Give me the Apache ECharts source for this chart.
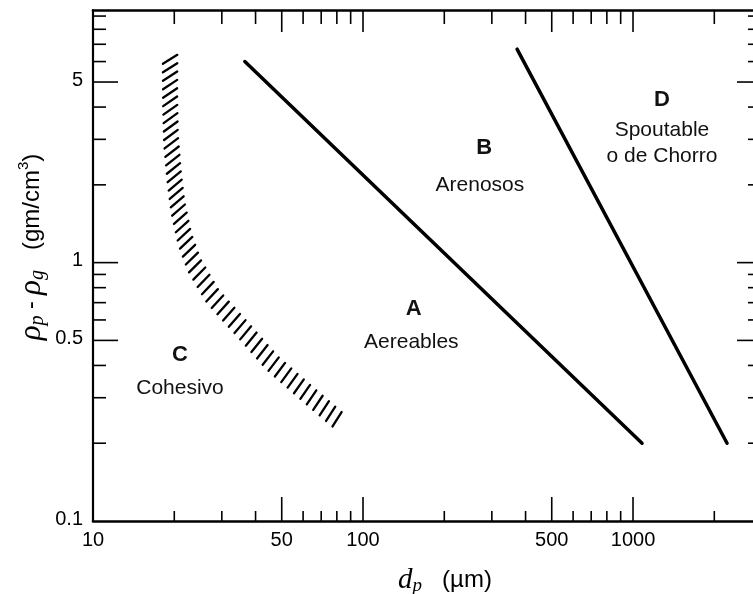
<!DOCTYPE html>
<html>
<head>
<meta charset="utf-8">
<script src="https://cdn.jsdelivr.net/npm/echarts@6.0.0/dist/echarts.min.js"></script>
<style>
html, body { margin: 0; padding: 0; background: #fff; }
#main { width: 753px; height: 594px; }
</style>
</head>
<body>
<div id="main"></div>
<script>
// rango de los ejes (log)
var xMin = 10, xMax = 2782;
var yMin = 0.1, yMax = 9.5;

// marcas y etiquetas
var xTicks = [20, 30, 40, 50, 60, 70, 80, 90, 100, 200, 300, 400, 500, 600, 700, 800, 900, 1000, 2000];
var xMajor = [50, 100, 500, 1000];
var xLabels = [10, 50, 100, 500, 1000];
var yTicks = [0.2, 0.3, 0.4, 0.5, 0.6, 0.7, 0.8, 0.9, 1, 2, 3, 4, 5, 6, 7, 8, 9];
var yMajor = [0.5, 1, 5];
var yLabels = [0.1, 0.5, 1, 5];

// frontera A / B
var abD = [36.5, 1080];
var abRho = [6.0, 0.2];
// frontera B / D
var bdD = [372, 2230];
var bdRho = [6.7, 0.2];

// banda rayada C / A (linea central)
var bandD = [19.3, 19.3, 19.45, 19.95, 20.6, 21.9, 23.7, 27.8, 35.9, 46.0, 64.7, 81.5];
var bandRho = [6.12, 4.28, 3.0, 2.19, 1.65, 1.23, 0.98, 0.738, 0.55, 0.41, 0.30, 0.244];

// textos de las zonas
var zoneText = ['D', 'Spoutable', 'o de Chorro', 'B', 'Arenosos', 'A', 'Aereables', 'C', 'Cohesivo'];
var zoneD = [1280, 1280, 1280, 281, 271, 154, 151, 21, 21];
var zoneRho = [4.28, 3.25, 2.58, 2.79, 2.0, 0.66, 0.494, 0.44, 0.328];
var zoneBold = [1, 0, 0, 1, 0, 1, 0, 1, 0];

var ink = '#000';
var sans = '"Liberation Sans", Arial, sans-serif';
var serif = '"Liberation Serif", "DejaVu Serif", serif';

// marcas del eje x (abajo y arriba)
function xTickItem(params, api) {
	var v = api.value(0);
	var cs = params.coordSys;
	var x = api.coord([v, yMin])[0];
	var major = xMajor.indexOf(v) >= 0;
	var lb = major ? 24 : 10, lt = major ? 22 : 14;
	var bot = cs.y + cs.height, top = cs.y;
	return {
		type: 'group',
		children: [
			{ type: 'line', shape: { x1: x, y1: bot, x2: x, y2: bot - lb }, style: { stroke: ink, lineWidth: 1.6 } },
			{ type: 'line', shape: { x1: x, y1: top, x2: x, y2: top + lt }, style: { stroke: ink, lineWidth: 1.6 } }
		]
	};
}
// marcas del eje y (izquierda y derecha)
function yTickItem(params, api) {
	var v = api.value(1);
	var cs = params.coordSys;
	var y = api.coord([xMin, v])[1];
	var major = yMajor.indexOf(v) >= 0;
	var ll = major ? 25 : 13, lr = major ? 16 : 5;
	var left = cs.x, right = cs.x + cs.width;
	return {
		type: 'group',
		children: [
			{ type: 'line', shape: { x1: left, y1: y, x2: left + ll, y2: y }, style: { stroke: ink, lineWidth: 1.6 } },
			{ type: 'line', shape: { x1: right, y1: y, x2: right - lr, y2: y }, style: { stroke: ink, lineWidth: 1.6 } }
		]
	};
}
function xLabelItem(params, api) {
	var v = api.value(0);
	var cs = params.coordSys;
	var x = api.coord([v, yMin])[0];
	return {
		type: 'text', x: x, y: cs.y + cs.height + 19,
		style: { text: String(v), font: '20px ' + sans, fill: ink, align: 'center', verticalAlign: 'middle' }
	};
}
function yLabelItem(params, api) {
	var v = api.value(1);
	var cs = params.coordSys;
	var y = api.coord([xMin, v])[1];
	return {
		type: 'text', x: cs.x - 10, y: y - 2,
		style: { text: String(v), font: '20px ' + sans, fill: ink, align: 'right', verticalAlign: 'middle' }
	};
}
// rayado de la banda: trazos cortos a lo largo de la linea central
var hatchGap = 8.4, hatchLen = 17;
function bandItem(params, api) {
	if (params.dataIndex > 0) return null;
	var pts = [];
	for (var i = 0; i < bandD.length; i++) pts.push(api.coord([bandD[i], bandRho[i]]));
	var cum = [0];
	for (i = 1; i < pts.length; i++) {
		cum.push(cum[i - 1] + Math.sqrt(Math.pow(pts[i][0] - pts[i - 1][0], 2) + Math.pow(pts[i][1] - pts[i - 1][1], 2)));
	}
	var total = cum[cum.length - 1];
	var strokes = [];
	var seg = 1;
	for (var s = 0; s <= total + 0.01; s += hatchGap) {
		while (seg < pts.length - 1 && cum[seg] < s) seg++;
		var f = (s - cum[seg - 1]) / (cum[seg] - cum[seg - 1]);
		var cx = pts[seg - 1][0] + f * (pts[seg][0] - pts[seg - 1][0]);
		var cy = pts[seg - 1][1] + f * (pts[seg][1] - pts[seg - 1][1]);
		var ang = (-32 - 26 * s / total) * Math.PI / 180;
		var dx = Math.cos(ang) * hatchLen / 2, dy = Math.sin(ang) * hatchLen / 2;
		strokes.push({
			type: 'line',
			shape: { x1: cx - dx, y1: cy - dy, x2: cx + dx, y2: cy + dy },
			style: { stroke: ink, lineWidth: 2.3, lineCap: 'round' }
		});
	}
	return { type: 'group', children: strokes };
}
function zoneItem(params, api) {
	var i = params.dataIndex;
	var p = api.coord([api.value(0), api.value(1)]);
	return {
		type: 'text', x: p[0], y: p[1],
		style: {
			text: zoneText[i],
			font: zoneBold[i] ? 'bold 22px ' + sans : '21px ' + sans,
			fill: '#111', align: 'center', verticalAlign: 'middle'
		}
	};
}

function pairs(a, b) {
	var res = [];
	for (var i = 0; i < a.length; i++) res.push([a[i], b[i]]);
	return res;
}

// ejes sin etiquetas: solo la linea; las marcas se dibujan aparte
function logAxis(extra) {
	var ax = {
		type: 'log', logBase: 10,
		axisTick: { show: false }, axisLabel: { show: false }, splitLine: { show: false }
	};
	for (var k in extra) ax[k] = extra[k];
	return ax;
}

var chart = echarts.init(document.getElementById('main'), null, { renderer: 'canvas' });
chart.setOption({
	animation: false,
	backgroundColor: '#fff',
	grid: { left: 93, top: 10, right: 0, bottom: 73, containLabel: false },
	xAxis: [
		logAxis({ min: xMin, max: xMax, position: 'bottom', axisLine: { show: true, lineStyle: { color: ink, width: 2.6 } } }),
		logAxis({ min: xMin, max: xMax, position: 'top', axisLine: { show: true, lineStyle: { color: ink, width: 2.6 } } })
	],
	yAxis: logAxis({ min: yMin, max: yMax, position: 'left', axisLine: { show: true, lineStyle: { color: ink, width: 2.2 } } }),
	graphic: [
		{ // titulo eje y
			type: 'text', x: 32, y: 247, rotation: Math.PI / 2,
			style: {
				text: '{r|ρ}{s|p}{m| - }{r|ρ}{s|g}{u|   (gm/cm}{sup|3}{u|)}',
				align: 'center', verticalAlign: 'middle', fill: ink,
				rich: {
					r: { fontFamily: serif, fontStyle: 'italic', fontSize: 31, lineHeight: 32 },
					s: { fontFamily: serif, fontStyle: 'italic', fontSize: 20, lineHeight: 19, verticalAlign: 'bottom' },
					m: { fontFamily: sans, fontSize: 23, lineHeight: 32 },
					u: { fontFamily: sans, fontSize: 24, lineHeight: 32 },
					sup: { fontFamily: sans, fontSize: 15, lineHeight: 16, verticalAlign: 'top' }
				}
			}
		},
		{ // titulo eje x
			type: 'text', x: 445, y: 580,
			style: {
				text: '{d|d}{s|p}{u|   (µm)}',
				align: 'center', verticalAlign: 'middle', fill: ink,
				rich: {
					d: { fontFamily: serif, fontStyle: 'italic', fontSize: 29, lineHeight: 30 },
					s: { fontFamily: serif, fontStyle: 'italic', fontSize: 19, lineHeight: 17, verticalAlign: 'bottom' },
					u: { fontFamily: sans, fontSize: 24, lineHeight: 30 }
				}
			}
		}
	],
	series: [
		{ type: 'custom', renderItem: xTickItem, data: xTicks.map(function (v) { return [v, yMin]; }) },
		{ type: 'custom', renderItem: yTickItem, data: yTicks.map(function (v) { return [xMin, v]; }) },
		{ type: 'custom', renderItem: xLabelItem, data: xLabels.map(function (v) { return [v, yMin]; }) },
		{ type: 'custom', renderItem: yLabelItem, data: yLabels.map(function (v) { return [xMin, v]; }) },
		{ type: 'custom', renderItem: bandItem, data: pairs(bandD, bandRho) },
		{
			type: 'line', data: pairs(abD, abRho), symbol: 'none',
			lineStyle: { color: ink, width: 3.5, cap: 'round' }
		},
		{
			type: 'line', data: pairs(bdD, bdRho), symbol: 'none',
			lineStyle: { color: ink, width: 3.5, cap: 'round' }
		},
		{ type: 'custom', renderItem: zoneItem, data: pairs(zoneD, zoneRho) }
	]
});
</script>
</body>
</html>
